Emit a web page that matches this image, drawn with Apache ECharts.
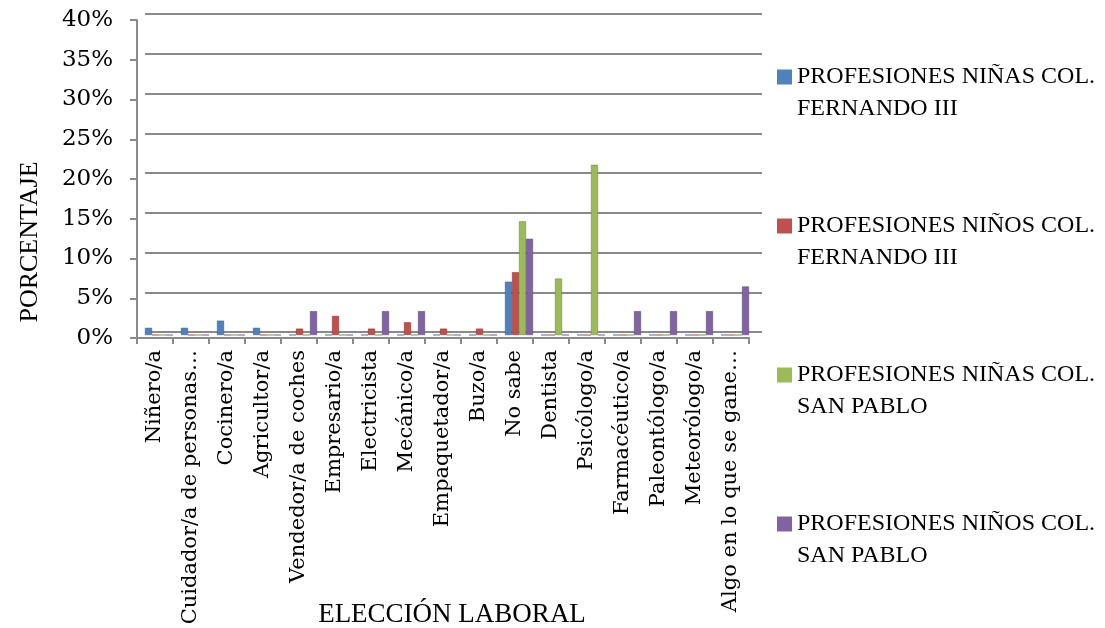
<!DOCTYPE html>
<html><head><meta charset="utf-8">
<script src="https://cdn.jsdelivr.net/npm/echarts@6/dist/echarts.min.js"></script>
<style>html,body{margin:0;padding:0;background:#fff}#c{width:1105px;height:628px}</style>
</head><body><div id="c"></div>
<script>
const categories = ['Niñero/a','Cuidador/a de personas…','Cocinero/a','Agricultor/a','Vendedor/a de coches','Empresario/a','Electricista','Mecánico/a','Empaquetador/a','Buzo/a','No sabe','Dentista','Psicólogo/a','Farmacéutico/a','Paleontólogo/a','Meteorólogo/a','Algo en lo que se gane…'];
const seriesNames = ['PROFESIONES NIÑAS COL.\nFERNANDO III','PROFESIONES NIÑOS COL.\nFERNANDO III','PROFESIONES NIÑAS COL.\nSAN PABLO','PROFESIONES NIÑOS COL.\nSAN PABLO'];
const ninasFernando = [0.9,0.9,1.8,0.9,0,0,0,0,0,0,6.7,0,0,0,0,0,0];
const ninosFernando = [0,0,0,0,0.8,2.4,0.8,1.6,0.8,0.8,7.9,0,0,0,0,0,0];
const ninasSanPablo = [0,0,0,0,0,0,0,0,0,0,14.3,7.1,21.4,0,0,0,0];
const ninosSanPablo = [0,0,0,0,3.0,0,3.0,3.0,0,0,12.1,0,0,3.0,3.0,3.0,6.1];
const xTitle = 'ELECCIÓN LABORAL';
const yTitle = 'PORCENTAJE';
const colors = ['#4F81BD','#C0504D','#9BBB59','#8064A2'];
const values = [ninasFernando, ninosFernando, ninasSanPablo, ninosSanPablo];
const gridColor = '#8a8a8a';
const chart = echarts.init(document.getElementById('c'));
chart.setOption({
  animation:false,
  color: colors,
  grid:[
    {left:137, right:356, top:20, bottom:290, containLabel:false, outerBoundsMode:'none'},
    {left:145, right:343, top:14, bottom:296, containLabel:false, outerBoundsMode:'none'},
    {left:141, right:352, top:17, bottom:293, containLabel:false, outerBoundsMode:'none'}
  ],
  legend:{
    orient:'vertical', left:777, top:29, padding:0, itemGap:53,
    itemWidth:15, itemHeight:15, icon:'rect',
    itemStyle:{borderWidth:0},
    formatter: n => ' \n' + n,
    textStyle:{fontFamily:'Liberation Serif', fontSize:24, color:'#000', lineHeight:32},
    data: seriesNames
  },
  graphic:[
    {type:'text', x:452, y:615, style:{text:xTitle, align:'center', verticalAlign:'middle', font:'27px "Liberation Serif"', fill:'#000'}},
    {type:'text', x:30, y:242, rotation:Math.PI/2, style:{text:yTitle, align:'center', verticalAlign:'middle', font:'26px "Liberation Serif"', fill:'#000'}}
  ],
  xAxis:[
    {type:'category', gridIndex:0, data:categories,
     axisLine:{lineStyle:{color:gridColor,width:2}},
     axisTick:{show:true, length:6, lineStyle:{color:gridColor,width:2}},
     axisLabel:{interval:0, rotate:90, margin:12, fontFamily:'DejaVu Serif', fontSize:21, color:'#000'}
    },
    {type:'category', gridIndex:1, data:categories, show:false},
    {type:'category', gridIndex:2, data:categories, show:false}
  ],
  yAxis:[
    {type:'value', gridIndex:0, min:0, max:40, interval:5,
     axisLine:{show:true, lineStyle:{color:gridColor,width:2}},
     axisTick:{show:true, length:7, lineStyle:{color:gridColor,width:2}},
     splitLine:{show:false},
     axisLabel:{formatter:'{value}%', margin:24, fontFamily:'DejaVu Serif', fontSize:23, color:'#000'}
    },
    {type:'value', gridIndex:1, min:0, max:40, interval:5,
     axisLine:{show:false}, axisTick:{show:false}, axisLabel:{show:false},
     splitLine:{show:true, lineStyle:{color:gridColor,width:2}}
    },
    {type:'value', gridIndex:2, min:0, max:40, interval:5, show:false, splitLine:{show:false}}
  ],
  series: values.map((v,i)=>({
    name: seriesNames[i], type:'bar', xAxisIndex:2, yAxisIndex:2,
    data: v, barWidth:7, barGap:'0%',
    itemStyle:{color:colors[i], borderColor:echarts.color.modifyHSL(colors[i],null,null,0.35), borderWidth:0.5}
  }))
});
</script></body></html>
